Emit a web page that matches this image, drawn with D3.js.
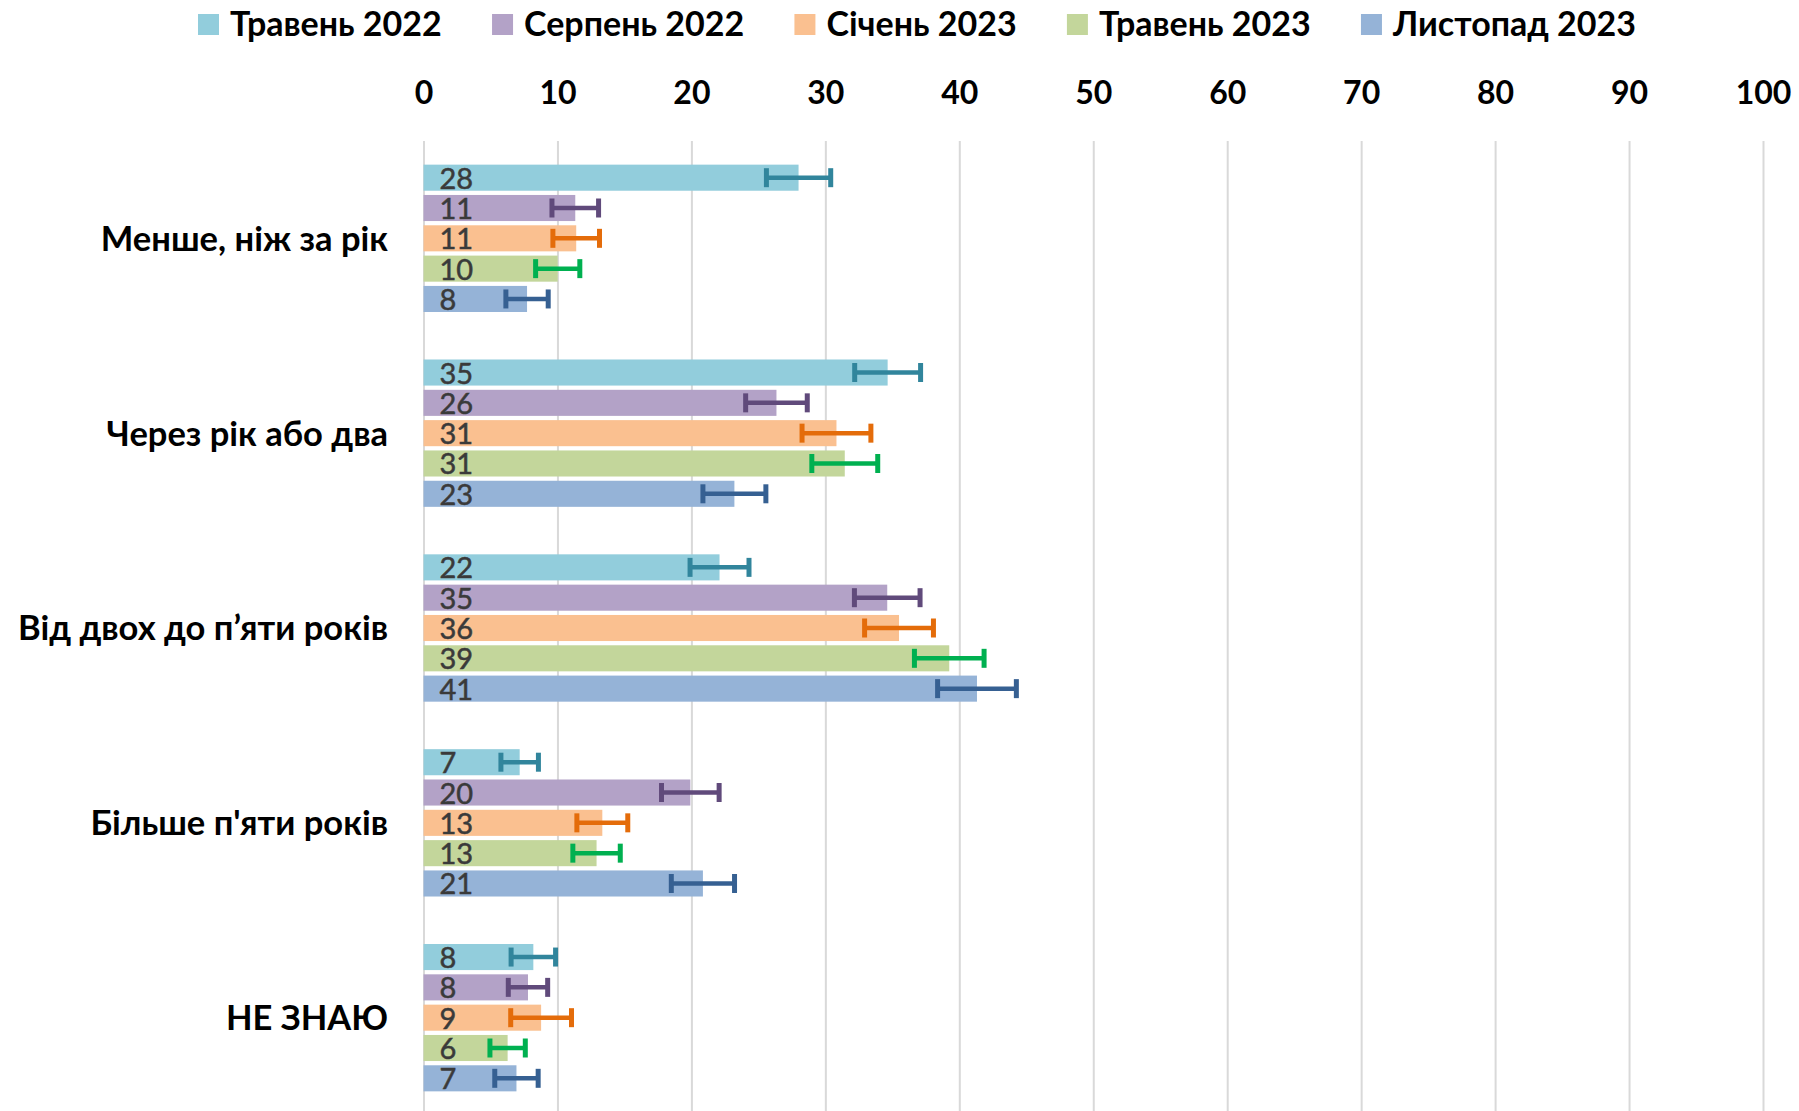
<!DOCTYPE html>
<html>
<head>
<meta charset="utf-8">
<script src="https://cdn.jsdelivr.net/npm/d3@7"></script>
<style>
  html, body { margin: 0; padding: 0; background: #ffffff; }
  svg { display: block; }
  text { font-family: Lato, "Open Sans", "DejaVu Sans", sans-serif; }
</style>
</head>
<body>
<svg id="chart" width="1799" height="1111"></svg>
<script>
// ---------- DATA ----------
const categories = ["Менше, ніж за рік", "Через рік або два", "Від двох до п’яти років", "Більше п'яти років", "НЕ ЗНАЮ"];
const seriesNames = ["Травень 2022", "Серпень 2022", "Січень 2023", "Травень 2023", "Листопад 2023"];

const may2022 = [28.0, 34.65, 22.1, 7.18, 8.2];
const aug2022 = [11.33, 26.35, 34.62, 19.92, 7.8];
const jan2023 = [11.4, 30.83, 35.5, 13.35, 8.78];
const may2023 = [10.02, 31.45, 39.25, 12.92, 6.28];
const nov2023 = [7.73, 23.21, 41.32, 20.86, 6.94];

const errMay2022 = [2.4, 2.46, 2.2, 1.4, 1.66];
const errAug2022 = [1.74, 2.3, 2.45, 2.15, 1.47];
const errJan2023 = [1.74, 2.57, 2.57, 1.9, 2.27];
const errMay2023 = [1.65, 2.46, 2.6, 1.77, 1.32];
const errNov2023 = [1.58, 2.35, 2.94, 2.36, 1.62];

const xTicks = [0, 10, 20, 30, 40, 50, 60, 70, 80, 90, 100];

const seriesValues = [may2022, aug2022, jan2023, may2023, nov2023];
const seriesErrors = [errMay2022, errAug2022, errJan2023, errMay2023, errNov2023];

// ---------- STYLE ----------
const barColors = ["#92CDDC", "#B3A2C7", "#FAC090", "#C3D69B", "#95B3D7"];
const errColors = ["#31859C", "#604A7B", "#E46C0A", "#00B050", "#366092"];

const svg = d3.select("#chart");

const x = d3.scaleLinear().domain([0, 100]).range([423.5, 1763]);
const yOuter = d3.scaleBand().domain(categories).range([140.9, 1115.1])
  .paddingInner(0.222).paddingOuter(0.111);
const yInner = d3.scaleBand().domain(seriesNames).range([0, yOuter.bandwidth()])
  .paddingInner(0.14).paddingOuter(0.07);

// gridlines + ticks
const axis = d3.axisTop(x).tickValues(xTicks).tickSizeInner(-970).tickSizeOuter(0).tickPadding(37);
const gAxis = svg.append("g").attr("transform", "translate(0,141)").call(axis);
gAxis.select(".domain").remove();
gAxis.selectAll(".tick line").attr("stroke", "#D9D9D9").attr("stroke-width", 2);
gAxis.selectAll(".tick text")
  .attr("fill", "#000").attr("font-size", 32).attr("font-weight", 700)
  .attr("font-family", "Lato, 'Open Sans', sans-serif");

// category labels
svg.append("g").selectAll("text").data(categories).join("text")
  .attr("x", 388)
  .attr("y", d => yOuter(d) + yOuter.bandwidth() / 2)
  .attr("dy", "0.36em")
  .attr("text-anchor", "end")
  .attr("font-size", 34.5).attr("font-weight", 700).attr("fill", "#000")
  .text(d => d);

// bars
const rows = [];
categories.forEach((c, ci) => {
  seriesNames.forEach((s, si) => {
    rows.push({ cat: c, ser: s, si, v: seriesValues[si][ci], e: seriesErrors[si][ci] });
  });
});

const gBars = svg.append("g");
gBars.selectAll("rect").data(rows).join("rect")
  .attr("x", x(0))
  .attr("y", d => yOuter(d.cat) + yInner(d.ser))
  .attr("width", d => x(d.v) - x(0))
  .attr("height", yInner.bandwidth())
  .attr("fill", d => barColors[d.si]);

// error bars
const capH = 19;
const gErr = svg.append("g");
rows.forEach(d => {
  const cy = yOuter(d.cat) + yInner(d.ser) + yInner.bandwidth() / 2;
  const x1 = x(d.v - d.e), x2 = x(d.v + d.e);
  const col = errColors[d.si];
  gErr.append("line").attr("x1", x1).attr("x2", x2).attr("y1", cy).attr("y2", cy)
    .attr("stroke", col).attr("stroke-width", 4.5);
  [x1, x2].forEach(xx => {
    gErr.append("line").attr("x1", xx).attr("x2", xx).attr("y1", cy - capH / 2).attr("y2", cy + capH / 2)
      .attr("stroke", col).attr("stroke-width", 5);
  });
});

// data labels
svg.append("g").selectAll("text").data(rows).join("text")
  .attr("x", x(0) + 16)
  .attr("y", d => yOuter(d.cat) + yInner(d.ser) + yInner.bandwidth() / 2)
  .attr("dy", "0.38em")
  .attr("font-size", 29).attr("fill", "#3a3a3a")
  .attr("stroke", "#3a3a3a").attr("stroke-width", 0.5)
  .text(d => Math.round(d.v));

// legend
const legendStart = 198, legendEnd = 1636, sq = 21, sqGap = 11;
const gLeg = svg.append("g");
const items = seriesNames.map((s, i) => {
  const g = gLeg.append("g");
  g.append("rect").attr("width", sq).attr("height", sq).attr("y", 14).attr("fill", barColors[i]);
  const t = g.append("text").attr("x", sq + sqGap).attr("y", 24).attr("dy", "0.36em")
    .attr("font-size", 34).attr("font-weight", 700).attr("fill", "#000").text(s);
  const w = sq + sqGap + t.node().getComputedTextLength();
  return { g, w };
});
const totalW = d3.sum(items, d => d.w);
const gap = (legendEnd - legendStart - totalW) / (items.length - 1);
let cx = legendStart;
items.forEach(it => { it.g.attr("transform", `translate(${cx},0)`); cx += it.w + gap; });
</script>
</body>
</html>
